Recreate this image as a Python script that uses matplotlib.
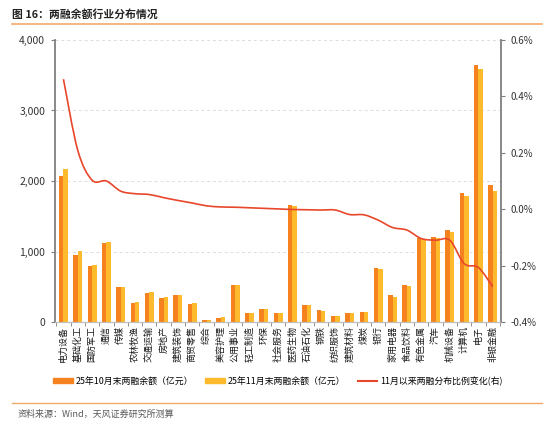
import numpy as np
import matplotlib
matplotlib.use('Agg')
import matplotlib.pyplot as plt
from matplotlib.path import Path
from matplotlib.patches import PathPatch, Patch
from matplotlib.lines import Line2D
from matplotlib.ticker import FuncFormatter, MultipleLocator

plt.rcParams['font.family'] = ['Noto Sans CJK SC', 'DejaVu Sans']

industries = ['电力设备', '基础化工', '国防军工', '通信', '传媒', '农林牧渔', '交通运输',
              '房地产', '建筑装饰', '商贸零售', '综合', '美容护理', '公用事业', '轻工制造',
              '环保', '社会服务', '医药生物', '石油石化', '钢铁', '纺织服饰', '建筑材料',
              '煤炭', '银行', '家用电器', '食品饮料', '有色金属', '汽车', '机械设备',
              '计算机', '电子', '非银金融']
bal_oct = [2075, 950, 790, 1116, 492, 274, 407, 345, 383, 260, 33, 61, 520, 132,
           184, 123, 1655, 236, 166, 85, 132, 142, 766, 378, 525, 1187, 1210, 1305,
           1830, 3650, 1939]
bal_nov = [2170, 1003, 808, 1130, 501, 284, 421, 355, 383, 270, 33, 71, 520, 132,
           184, 123, 1645, 236, 162, 82, 132, 142, 756, 359, 506, 1177, 1191, 1277,
           1783, 3584, 1863]
share_chg = [0.461, 0.209, 0.103, 0.100, 0.064, 0.055, 0.052, 0.041, 0.031, 0.022,
             0.012, 0.008, 0.007, 0.005, 0.003, 0.001, -0.001, -0.002, -0.003, -0.003,
             -0.019, -0.020, -0.039, -0.065, -0.074, -0.104, -0.110, -0.110, -0.193,
             -0.207, -0.275]

c_oct = '#F5821F'
c_nov = '#FDBA2C'
c_line = '#E8472B'
c_rule = '#F4A96B'
c_axis = '#7F7F7F'


def smooth_path(x, y, t=0.5):
   # bezier control points, like a smoothed office line
   x = np.asarray(x, float)
   y = np.asarray(y, float)
   verts = [(x[0], y[0])]
   codes = [Path.MOVETO]
   n = len(x)
   for i in range(n - 1):
      x0, y0 = (x[i - 1], y[i - 1]) if i > 0 else (x[i], y[i])
      x3, y3 = (x[i + 2], y[i + 2]) if i + 2 < n else (x[i + 1], y[i + 1])
      c1 = (x[i] + (x[i + 1] - x0) * t / 3, y[i] + (y[i + 1] - y0) * t / 3)
      c2 = (x[i + 1] - (x3 - x[i]) * t / 3, y[i + 1] - (y3 - y[i]) * t / 3)
      verts += [c1, c2, (x[i + 1], y[i + 1])]
      codes += [Path.CURVE4] * 3
   return Path(verts, codes)


fig = plt.figure(figsize=(5.5, 4.29), dpi=100)
ax = fig.add_axes([0.1, 0.2494, 0.81, 0.6574])
ax2 = ax.twinx()

xs = np.arange(len(industries))
w = 0.31
ax.bar(xs - w / 2, bal_oct, width=w, color=c_oct, zorder=2)
ax.bar(xs + w / 2, bal_nov, width=w, color=c_nov, zorder=2)

ax.set_ylim(0, 4000)
ax.set_xlim(-0.59, 30.54)
ax.yaxis.set_major_locator(MultipleLocator(1000))
ax.yaxis.set_major_formatter(FuncFormatter(lambda v, p: f'{v:,.0f}'))
ax.grid(axis='y', color='#DDDDDD', linestyle=(0, (3, 3)), linewidth=0.7, zorder=0)
ax.set_axisbelow(True)

ax.set_xticks(xs)
ax.set_xticklabels(industries, rotation=90, fontsize=6.5, color='#1A1A1A')
ax.set_xticks(np.arange(-0.5, len(industries)), minor=True)
ax.tick_params(axis='x', which='major', length=0, pad=3)
ax.tick_params(axis='x', which='minor', length=3, color=c_axis)
ax.tick_params(axis='y', length=3, color=c_axis, labelsize=7.5, labelcolor='#333333', pad=4)

pct = np.array(share_chg)
ax2.add_patch(PathPatch(smooth_path(xs, pct), facecolor='none', edgecolor=c_line,
                        linewidth=1.2, zorder=3))
ax2.set_ylim(-0.4, 0.6)
ax2.yaxis.set_major_locator(MultipleLocator(0.2))
ax2.yaxis.set_major_formatter(FuncFormatter(lambda v, p: f'{v:.1f}%'))
ax2.tick_params(axis='y', length=3, color=c_axis, labelsize=7, labelcolor='#333333', pad=4)

for a in (ax, ax2):
   a.spines['top'].set_visible(False)
   a.spines['left'].set_color(c_axis)
   a.spines['right'].set_color(c_axis)
   a.spines['bottom'].set_color('#BFBFBF')
   a.spines['left'].set_linewidth(1.3)
   a.spines['right'].set_linewidth(1.3)
ax.spines['right'].set_visible(False)
ax2.spines['left'].set_visible(False)

handles = [Patch(color=c_oct), Patch(color=c_nov), Line2D([], [], color=c_line, lw=1.5)]
labels = ['25年10月末两融余额（亿元）', '25年11月末两融余额（亿元）', '11月以来两融分布比例变化(右)']
fig.legend(handles, labels, loc='center', bbox_to_anchor=(0.505, 1 - 381 / 429), ncol=3,
           frameon=False, fontsize=6.4, handlelength=2.2, handleheight=0.6,
           columnspacing=1.4, handletextpad=0.3)

fig.text(12 / 550, 1 - 14 / 429, '图 16：两融余额行业分布情况', fontsize=7.8,
         fontweight='bold', color='#222222', va='center', ha='left')
fig.add_artist(Line2D([12 / 550, 542 / 550], [1 - 23.5 / 429] * 2, color=c_rule, lw=1.2))
fig.add_artist(Line2D([12 / 550, 542 / 550], [1 - 402.5 / 429] * 2, color=c_rule, lw=1.0))
fig.text(18 / 550, 1 - 414 / 429, '资料来源：Wind，天风证券研究所测算', fontsize=6.5,
         color='#595959', va='center', ha='left')

fig.savefig('out.png', dpi=100)
